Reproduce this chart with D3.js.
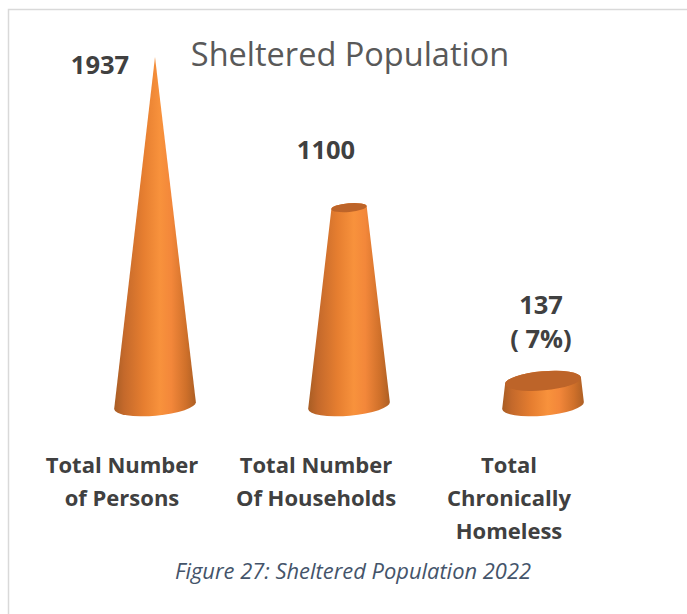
<!DOCTYPE html>
<html>
<head>
  <meta charset="utf-8">
  <script src="https://d3js.org/d3.v7.min.js"></script>
  <style>
    html, body { margin: 0; padding: 0; background: #fff; }
    svg { display: block; }
    text { font-family: 'Open Sans', sans-serif; }
    .title { font-size: 32.5px; fill: #595959; }
    .value { font-size: 25.5px; font-weight: 700; fill: #404040; }
    .cat { font-size: 22px; font-weight: 700; fill: #404040; }
    .caption { font-size: 21.9px; font-style: italic; fill: #44546a; }
  </style>
</head>
<body>
  <div id="chart"></div>
  <script>
    var categories = ["Total Number of Persons", "Total Number Of Households", "Total Chronically Homeless"];
    var values = [1937, 1100, 137];
    var valueLabels = [["1937"], ["1100"], ["137", "( 7%)"]];
    var catLines = [["Total Number", "of Persons"], ["Total Number", "Of Households"], ["Total", "Chronically", "Homeless"]];
    var title = "Sheltered Population";
    var caption = "Figure 27: Sheltered Population 2022";

    var w = 687, h = 614;
    var svg = d3.select("#chart").append("svg").attr("width", w).attr("height", h);

    // frame, only top and left are visible in the crop
    svg.append("path")
      .attr("d", "M8.5," + h + "V9.5H" + w)
      .attr("fill", "none")
      .attr("stroke", "#d9d9d9")
      .attr("stroke-width", 1.5);

    var x = d3.scalePoint().domain(categories).range([155, 543]);
    var y = d3.scaleLinear().domain([0, 1937]).range([405.5, 57]);
    var r = d3.scaleLinear().domain([0, 1937]).range([41, 0]);

    var tilt = -5;                 // ellipses lean up to the right
    var squash = 0.25;
    var rad = tilt * Math.PI / 180;

    var defs = svg.append("defs");
    var grad = defs.append("linearGradient").attr("id", "side");
    [[0, "#a85d24"], [0.12, "#c4692b"], [0.36, "#e67e30"], [0.56, "#f8923c"], [0.7, "#f3873a"], [0.88, "#cf702a"], [1, "#ad5f24"]]
      .forEach(function (s) {
        grad.append("stop").attr("offset", s[0]).attr("stop-color", s[1]);
      });

    function ends(cx, cy, rad_) {
      return {
        x0: cx - rad_ * Math.cos(rad), y0: cy - rad_ * Math.sin(rad),
        x1: cx + rad_ * Math.cos(rad), y1: cy + rad_ * Math.sin(rad)
      };
    }

    var cones = svg.append("g").selectAll("g")
      .data(categories)
      .enter().append("g");

    // body of the cone: bottom arc, two sides, back over the top arc
    cones.append("path")
      .attr("fill", "url(#side)")
      .attr("d", function (d, i) {
        var cx = x(d), v = values[i];
        var b = ends(cx, y(0), r(0));
        var t = ends(cx, y(v), r(v));
        return "M" + b.x0 + "," + b.y0 +
          "A" + r(0) + "," + r(0) * squash + " " + tilt + " 0 0 " + b.x1 + "," + b.y1 +
          "L" + t.x1 + "," + t.y1 +
          (r(v) > 0.5 ? "A" + r(v) + "," + r(v) * squash + " " + tilt + " 0 0 " + t.x0 + "," + t.y0 : "L" + t.x0 + "," + t.y0) +
          "Z";
      });

    // cap
    cones.filter(function (d, i) { return r(values[i]) > 0.5; })
      .append("ellipse")
      .attr("fill", "#bd6429")
      .attr("cx", 0).attr("cy", 0)
      .attr("rx", function (d) { return r(values[categories.indexOf(d)]); })
      .attr("ry", function (d) { return r(values[categories.indexOf(d)]) * squash; })
      .attr("transform", function (d) {
        return "translate(" + x(d) + "," + y(values[categories.indexOf(d)]) + ") rotate(" + tilt + ")";
      });

    svg.append("text").attr("class", "title")
      .attr("x", 350).attr("y", 66).attr("text-anchor", "middle")
      .text(title);

    var valueX = [100, 326, 541];
    var valueY = [74, 159, 314];
    valueLabels.forEach(function (lines, i) {
      lines.forEach(function (t, j) {
        svg.append("text").attr("class", "value")
          .attr("x", valueX[i]).attr("y", valueY[i] + j * 34)
          .attr("text-anchor", "middle").text(t);
      });
    });

    var catX = [122, 316, 509];
    catLines.forEach(function (lines, i) {
      lines.forEach(function (t, j) {
        svg.append("text").attr("class", "cat")
          .attr("x", catX[i]).attr("y", 473 + j * 33)
          .attr("text-anchor", "middle").text(t);
      });
    });

    svg.append("text").attr("class", "caption")
      .attr("x", 353).attr("y", 579).attr("text-anchor", "middle")
      .text(caption);
  </script>
</body>
</html>
